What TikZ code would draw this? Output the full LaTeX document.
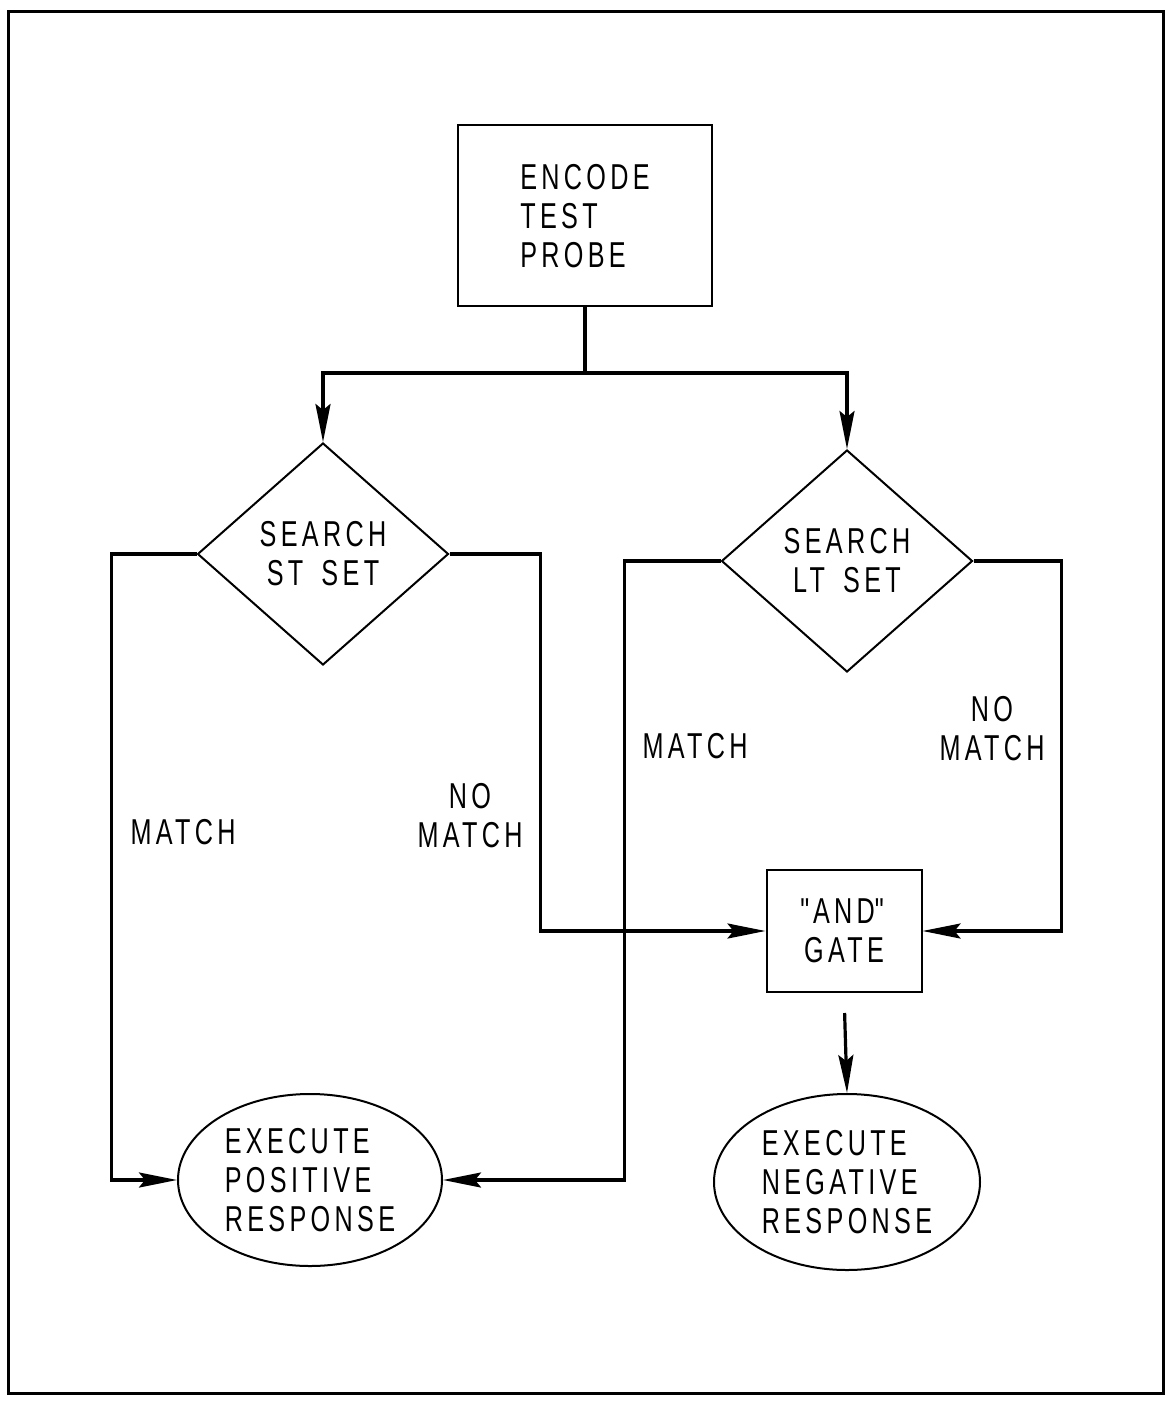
\documentclass[tikz,border=0pt]{standalone}
\usepackage{fontspec}
\setmainfont{Liberation Sans}[FakeStretch=0.7,LetterSpace=12,WordSpace=1.6]
\usepackage{tikz}
\usetikzlibrary{arrows.meta,shapes.geometric,positioning}
\tikzset{
  chart/.style={font=\fontsize{18}{19.5}\selectfont, align=center, inner sep=0pt},
  procbox/.style={chart, draw, line width=1pt, rectangle},
  testbox/.style={chart, draw, line width=1pt, diamond,
    minimum width=125.5pt, minimum height=111pt},
  endbox/.style={chart, draw, line width=1pt, ellipse, align=left},
  flow/.style={line width=1.6pt, -{Stealth[length=19pt,width=7.5pt,inset=3pt]}},
  link/.style={line width=1.6pt}
}

\begin{document}
\begin{tikzpicture}[x=0.5pt, y=-0.5pt, line join=miter]
  \useasboundingbox (0,0) rectangle (1171,1401);
  % page frame
  \draw[line width=1.5pt] (8,12) rectangle (1163,1393);

  % boxes
  \node[procbox, align=left, minimum width=127pt, minimum height=90.5pt]
    (probe) at (585,216) {ENCODE\\TEST\\PROBE};
  \node[testbox] (stset) at (323,554) {SEARCH\\ST SET};
  \node[testbox] (ltset) at (847,561) {SEARCH\\LT SET};
  \node[procbox, minimum width=77.5pt, minimum height=61pt]
    (gate) at (844,931) {\textquotedbl AND\textquotedbl\\GATE};
  \node[endbox, minimum width=132pt, minimum height=86pt]
    (pos) at (310,1180) {EXECUTE\\POSITIVE\\RESPONSE};
  \node[endbox, minimum width=133pt, minimum height=88pt]
    (neg) at (847,1182) {EXECUTE\\NEGATIVE\\RESPONSE};

  % branch labels
  \node[chart] (stmatch) at (183,832) {MATCH};
  \node[chart] (stnomatch) at (470,816) {NO\\MATCH};
  \node[chart] (ltmatch) at (695,746) {MATCH};
  \node[chart] (ltnomatch) at (992,729) {NO\\MATCH};

  % connectors
  \coordinate (split) at (585,373);
  \draw[link] (probe) -- (split);
  \draw[flow] (split) -| (stset.north);
  \draw[flow] (split) -| (ltset.north);
  \draw[flow] (stset.west) -- ++(-85,0) |- (pos.west);
  \draw[flow] (stset.east) -- ++(91,0) |- (gate.west);
  \draw[flow] (ltset.west) -- ++(-96,0) |- (pos.east);
  \draw[flow] (ltset.east) -- ++(88,0) |- (gate.east);
  \draw[flow, shorten <=10pt] (gate.south) -- (neg.north);
\end{tikzpicture}
\end{document}
